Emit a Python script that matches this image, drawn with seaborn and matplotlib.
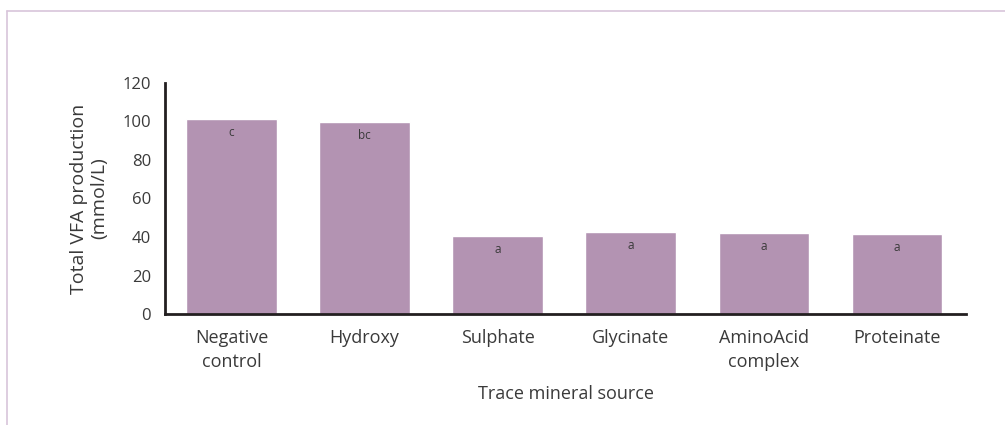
import matplotlib
matplotlib.use('Agg')
import pandas as pd
import seaborn as sns
import matplotlib.pyplot as plt
from matplotlib.lines import Line2D

# data
sources = ['Negative\ncontrol', 'Hydroxy', 'Sulphate', 'Glycinate', 'AminoAcid\ncomplex', 'Proteinate']
vfa = [101.5, 99.5, 40.5, 42.5, 42.0, 41.5]
letters = ['c', 'bc', 'a', 'a', 'a', 'a']

df = pd.DataFrame({'Source': sources, 'VFA': vfa})

sns.set_style('white')
plt.rcParams['font.family'] = ['Open Sans', 'DejaVu Sans']
text_col = '#3a3a3a'

fig = plt.figure(figsize=(10.05, 4.25), dpi=100)
ax = fig.add_axes([165 / 1005, 1 - 314 / 425, (966 - 165) / 1005, (314 - 83) / 425])

sns.barplot(x='Source', y='VFA', data=df, color='#b393b2', width=0.68,
            saturation=1, ax=ax)

for i, (v, lab) in enumerate(zip(vfa, letters)):
    ax.annotate(lab, (i, v), xytext=(0, -5), textcoords='offset points',
                ha='center', va='top', fontsize=8.5, color=text_col)

ax.set_ylim(0, 120)
ax.set_xlim(-0.5, 5.52)
ax.set_yticks(range(0, 121, 20))
ax.tick_params(axis='both', length=0, colors=text_col)
ax.tick_params(axis='y', pad=10, labelsize=12)
ax.tick_params(axis='x', pad=11, labelsize=13)
for t in ax.get_xticklabels():
    t.set_linespacing(1.4)
sns.despine(ax=ax)
for s in ['left', 'bottom']:
    ax.spines[s].set_linewidth(2)
    ax.spines[s].set_color('#231f20')

ax.set_xlabel('Trace mineral source', fontsize=13, color=text_col, labelpad=10)
ax.set_ylabel('Total VFA production\n(mmol/L)', fontsize=14, color=text_col,
              labelpad=10, linespacing=1.15)

# light purple frame around the figure
frame_col = '#d8c5da'
fig.add_artist(Line2D([7 / 1005, 1], [1 - 11 / 425, 1 - 11 / 425], color=frame_col, lw=1.2))
fig.add_artist(Line2D([7 / 1005, 7 / 1005], [0, 1 - 11 / 425], color=frame_col, lw=1.2))

fig.savefig('out.png', dpi=100)
